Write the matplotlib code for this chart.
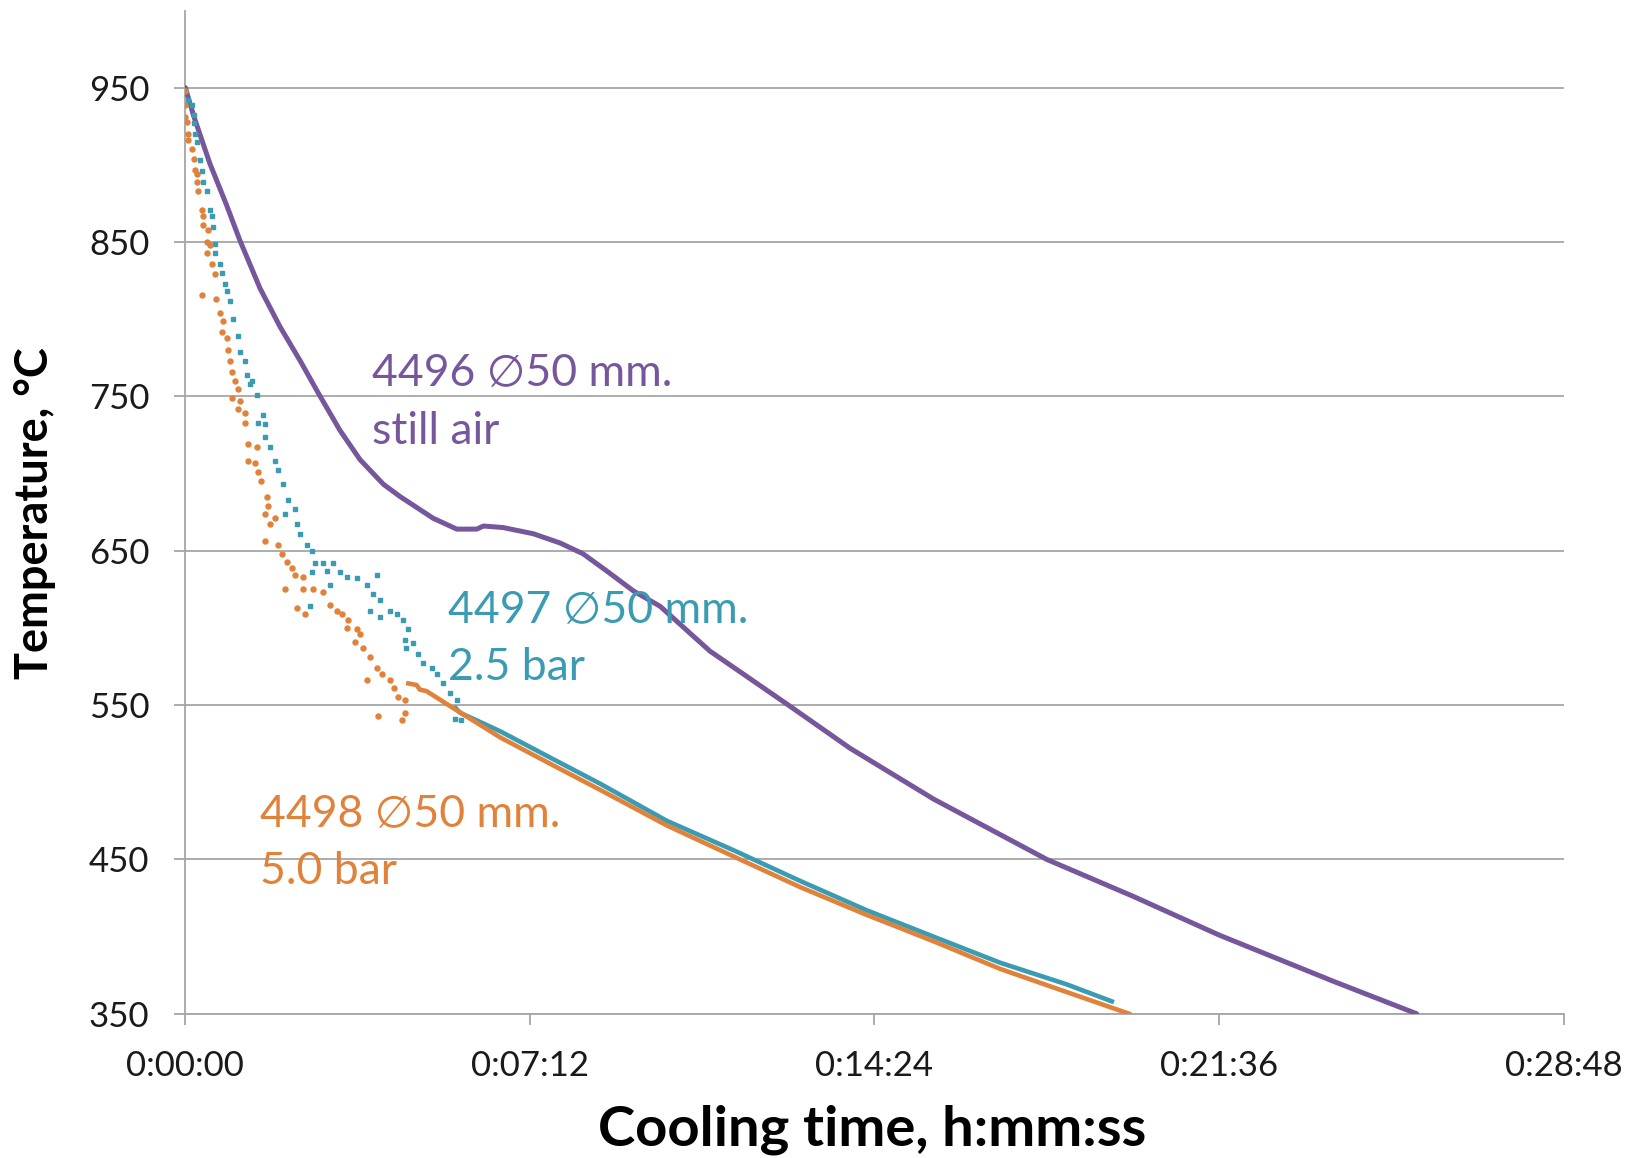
import matplotlib
matplotlib.use("Agg")
import matplotlib.pyplot as plt
from matplotlib.ticker import FixedLocator, FuncFormatter

# cooling time in minutes, temperature in degC

# 4496, still air
t_air = [0, 0.17, 0.51, 0.86, 1.14, 1.56, 1.98, 2.40, 2.78, 3.23, 3.65, 4.14, 4.49,
         5.18, 5.67, 6.09, 6.23, 6.64, 7.27, 7.83, 8.31, 8.80, 9.36, 9.92, 10.96,
         12.60, 13.89, 15.64, 18.00, 19.81, 21.60, 23.99, 25.73]
T_air = [950, 932, 901, 874, 851, 820, 795, 773, 752, 728, 709, 693, 685,
         671, 664, 664, 666, 665, 661, 655, 648, 637, 624, 614, 585,
         550, 522, 489, 450, 426, 401, 371, 350]

# 4497, 2.5 bar - noisy logger readings during fast cooling
t_25_raw = [0, 0.06, 0.13, 0.17, 0.17, 0.20, 0.24, 0.31, 0.34, 0.37, 0.45, 0.51, 0.55,
            0.58, 0.62, 0.62, 0.72, 0.76, 0.83, 0.86, 0.93, 1.00, 1.11, 1.14, 1.25,
            1.28, 1.39, 1.35, 1.49, 1.63, 1.52, 1.66, 1.66, 1.77, 1.87, 1.94, 2.05,
            2.15, 2.08, 2.29, 2.33, 2.40, 2.54, 2.64, 2.71, 2.88, 3.09, 2.95, 3.23,
            3.37, 3.58, 3.79, 4.00, 3.93, 4.07, 4.28, 4.42, 4.55, 4.66, 4.59, 4.76,
            4.87, 4.97, 5.15, 5.25, 5.39, 5.53, 5.67, 5.77, 5.63, 2.64, 2.60, 3.02,
            3.86, 4.07, 4.62]
T_25_raw = [948, 942, 939, 932, 927, 920, 915, 903, 896, 889, 883, 871, 867,
            860, 849, 843, 836, 830, 823, 818, 812, 800, 789, 779, 773,
            764, 760, 758, 751, 738, 733, 732, 724, 717, 708, 702, 693,
            683, 674, 677, 667, 661, 654, 650, 642, 642, 642, 637, 636,
            633, 632, 628, 634, 622, 618, 611, 609, 605, 599, 592, 590,
            583, 577, 574, 570, 564, 558, 553, 540, 541, 636, 614, 628,
            611, 607, 587]
# 4497, 2.5 bar - steady part
t_25 = [5.65, 5.74, 6.58, 7.62, 8.67, 10.06, 11.45, 12.85, 14.24, 15.63, 17.03, 18.42, 19.36]
T_25 = [548, 545, 533, 516, 499, 475, 456, 436, 417, 400, 383, 369, 358]

# 4498, 5.0 bar - noisy logger readings during fast cooling
t_50_raw = [0, 0, 0, 0.03, 0.06, 0.06, 0.13, 0.17, 0.20, 0.24, 0.24, 0.27, 0.34,
            0.37, 0.37, 0.48, 0.45, 0.51, 0.45, 0.55, 0.62, 0.34, 0.65, 0.72, 0.79,
            0.76, 0.86, 0.90, 0.93, 0.97, 1.04, 1.11,
            0.97, 1.14, 1.11, 1.25, 1.25, 1.31, 1.49, 1.31, 1.45, 1.52, 1.59, 1.70,
            1.73, 1.66, 1.87, 1.77, 1.66, 1.94, 2.01, 2.12, 2.22, 2.29, 2.46, 2.08,
            2.46, 2.67, 2.88, 2.33, 2.50, 3.02, 3.16, 3.27, 3.40, 3.58, 3.65, 3.37,
            3.54, 3.72, 3.86, 4.00, 4.10, 4.28, 4.35, 3.79, 4.45, 4.59, 4.59, 4.03, 4.52]
T_50_raw = [948, 939, 931, 928, 920, 916, 910, 904, 897, 894, 889, 883, 871,
            867, 861, 858, 850, 848, 843, 836, 829, 816, 813, 804, 799,
            792, 788, 780, 773, 766, 760, 755,
            749, 747, 742, 739, 733, 719, 717, 708, 707, 701, 695, 685,
            679, 674, 671, 667, 656, 654, 648, 643, 639, 634, 633, 625,
            625, 625, 623, 613, 609, 615, 611, 609, 605, 599, 596, 600,
            591, 587, 581, 574, 570, 566, 561, 566, 555, 553, 545, 543, 540]
# 4498, 5.0 bar - steady part after the bump
t_50 = [4.66, 4.83, 4.90, 5.04, 5.65, 6.58, 7.62, 8.67, 10.06, 11.45, 12.85, 14.24,
        15.63, 17.03, 18.42, 19.72]
T_50 = [564, 563, 560, 559, 547, 529, 512, 495, 472, 452, 432, 414,
        397, 379, 364, 350]

x_ticks = [0, 7.2, 14.4, 21.6, 28.8]
y_ticks = [350, 450, 550, 650, 750, 850, 950]

PURPLE = "#76579B"
TEAL = "#3A9BB2"
ORANGE = "#E1823A"
GRID = "#A6A6A6"
FONT = ["Lato", "DejaVu Sans"]


def hms(m, pos=None):
    s = int(round(m * 60))
    return "%d:%02d:%02d" % (s // 3600, (s % 3600) // 60, s % 60)


fig = plt.figure(figsize=(16.42, 11.58), dpi=100)
ax = fig.add_axes([0.1129, 0.1246, 0.8393, 0.8663])

ax.plot(t_air, T_air, color=PURPLE, lw=3.6, solid_joinstyle="round",
        solid_capstyle="round", zorder=3)
ax.plot(t_25_raw, T_25_raw, ls="none", marker="s", ms=3.3, color=TEAL, zorder=3)
ax.plot(t_25, T_25, color=TEAL, lw=3.3, solid_joinstyle="round", zorder=3)
ax.plot(t_50_raw, T_50_raw, ls="none", marker="o", ms=3.6, color=ORANGE, zorder=3)
ax.plot(t_50, T_50, color=ORANGE, lw=3.3, solid_joinstyle="round", zorder=4)

ax.set_xlim(0, 28.8)
ax.set_ylim(350, 1000)
ax.xaxis.set_major_locator(FixedLocator(x_ticks))
ax.xaxis.set_major_formatter(FuncFormatter(hms))
ax.yaxis.set_major_locator(FixedLocator(y_ticks))

ax.grid(axis="y", color=GRID, lw=1.3)
ax.set_axisbelow(True)
for side in ("top", "right"):
    ax.spines[side].set_visible(False)
for side in ("left", "bottom"):
    ax.spines[side].set_color(GRID)
    ax.spines[side].set_linewidth(1.3)
ax.tick_params(axis="both", direction="out", length=8, width=1.3, color=GRID,
               labelsize=25, labelcolor="#1a1a1a")
ax.tick_params(axis="y", pad=18)
ax.tick_params(axis="x", pad=18)
for lab in ax.get_xticklabels() + ax.get_yticklabels():
    lab.set_family(FONT)

# series labels
lbl = dict(fontsize=32, family=FONT, va="baseline", ha="left")
ax.text(3.89, 757.6, "4496 \u220550 mm.", color=PURPLE, **lbl)
ax.text(3.89, 719.2, "still air", color=PURPLE, **lbl)
ax.text(5.49, 603.9, "4497 \u220550 mm.", color=TEAL, **lbl)
ax.text(5.49, 566.0, "2.5 bar", color=TEAL, **lbl)
ax.text(1.55, 471.8, "4498 \u220550 mm.", color=ORANGE, **lbl)
ax.text(1.55, 434.0, "5.0 bar", color=ORANGE, **lbl)

fig.text(0.531, 0.0104, "Cooling time, h:mm:ss", ha="center", va="baseline",
         fontsize=40.5, fontweight="bold", family=FONT)
fig.text(0.0216, 0.557, "Temperature, \u00b0C", ha="center", va="center",
         rotation=90, fontsize=32.5, fontweight="bold", family=FONT)

fig.savefig("out.png", dpi=100)
